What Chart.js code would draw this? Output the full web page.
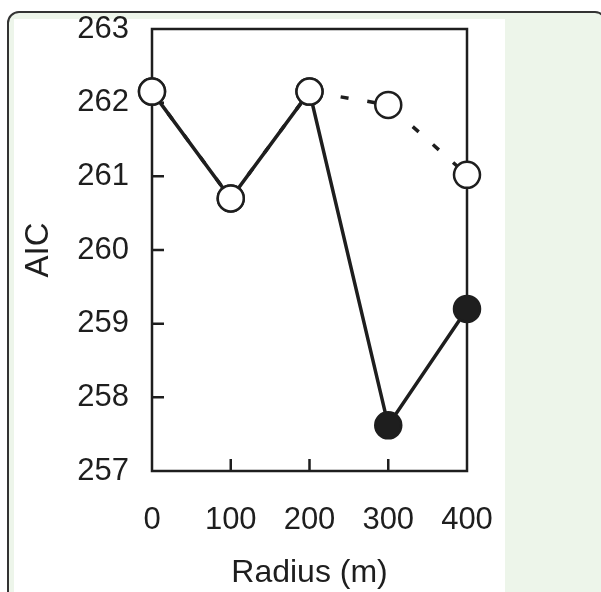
<!DOCTYPE html>
<html>
<head>
<meta charset="utf-8">
<script src="https://cdn.jsdelivr.net/npm/chart.js@4/dist/chart.umd.min.js"></script>
<style>
  html, body { margin: 0; padding: 0; background: #fff; }
  #frame {
    position: absolute; left: 7px; top: 11px; width: 600px; height: 620px;
    border: 2px solid #333; border-radius: 12px; background: #edf5ea; box-sizing: border-box;
  }
  #panel { position: absolute; left: 14px; top: 19px; width: 491px; height: 600px; background: #fff; }
  #wrap { position: absolute; left: 0; top: 0; width: 601px; height: 592px; }
</style>
</head>
<body>
<div id="frame"></div>
<div id="panel"></div>
<div id="wrap"><canvas id="c" width="601" height="592"></canvas></div>
<script>
const radius = [0, 100, 200, 300, 400];
const aicOpen = [262.15, 260.7, 262.15, 261.97, 261.02];
const aicFilled = [262.15, 260.7, 262.15, 257.62, 259.2];
const yTicks = [257, 258, 259, 260, 261, 262, 263];
const xTicks = [0, 100, 200, 300, 400];

const ink = '#1e1e1e';

// box round the plot, with ticks pointing inward
const boxTicks = {
  id: 'boxTicks',
  beforeDatasetsDraw(chart) {
    const { ctx, chartArea: a, scales } = chart;
    ctx.save();
    ctx.strokeStyle = ink;
    ctx.lineWidth = 2.5;
    ctx.strokeRect(a.left, a.top, a.right - a.left, a.bottom - a.top);
    ctx.beginPath();
    yTicks.slice(1, -1).forEach(v => {
      const y = scales.y.getPixelForValue(v);
      ctx.moveTo(a.left, y);
      ctx.lineTo(a.left + 12, y);
    });
    xTicks.slice(1, -1).forEach(v => {
      const x = scales.x.getPixelForValue(v);
      ctx.moveTo(x, a.bottom);
      ctx.lineTo(x, a.bottom - 12);
    });
    ctx.stroke();
    ctx.restore();
  }
};

const family = '"Liberation Sans", Arial, sans-serif';
const tickFont = { family, size: 31 };

new Chart(document.getElementById('c'), {
  type: 'scatter',
  data: {
    datasets: [{
      label: 'filled',
      data: radius.map((r, i) => ({ x: r, y: aicFilled[i] })),
      showLine: true,
      clip: false,
      borderColor: ink,
      borderWidth: 3.5,
      pointRadius: 13,
      pointBorderWidth: 2.5,
      pointBorderColor: ink,
      pointBackgroundColor: ['#fff', '#fff', '#fff', ink, ink],
      order: 1
    }, {
      label: 'open',
      data: radius.map((r, i) => ({ x: r, y: aicOpen[i] })),
      showLine: true,
      clip: false,
      borderColor: ink,
      borderWidth: 3.5,
      borderDash: [8, 19],
      pointRadius: 13,
      pointBorderWidth: 2.5,
      pointBorderColor: ink,
      pointBackgroundColor: '#fff',
      order: 2
    }]
  },
  options: {
    responsive: false,
    animation: false,
    events: [],
    layout: { padding: { left: 8, top: 29, right: 134, bottom: 0 } },
    plugins: { legend: { display: false }, tooltip: { enabled: false } },
    scales: {
      x: {
        type: 'linear', min: 0, max: 400,
        afterBuildTicks: s => { s.ticks = xTicks.map(v => ({ value: v })); },
        afterFit: s => { s.height = 121; s.paddingLeft = 0; s.paddingRight = 0; },
        grid: { display: false, drawTicks: false },
        border: { display: false },
        ticks: { color: ink, font: tickFont, padding: 31, maxRotation: 0 },
        title: { display: true, text: 'Radius (m)', color: ink, font: { family, size: 32 }, padding: { top: 0, bottom: 0 } }
      },
      y: {
        type: 'linear', min: 257, max: 263,
        afterBuildTicks: s => { s.ticks = yTicks.map(v => ({ value: v })); },
        afterFit: s => { s.width = 144; s.paddingTop = 0; s.paddingBottom = 0; },
        grid: { display: false, drawTicks: false },
        border: { display: false },
        ticks: { color: ink, font: tickFont, padding: 23 },
        title: { display: true, text: 'AIC', color: ink, font: { family, size: 33 }, padding: { top: 11, bottom: 0 } }
      }
    }
  },
  plugins: [boxTicks]
});
</script>
</body>
</html>
